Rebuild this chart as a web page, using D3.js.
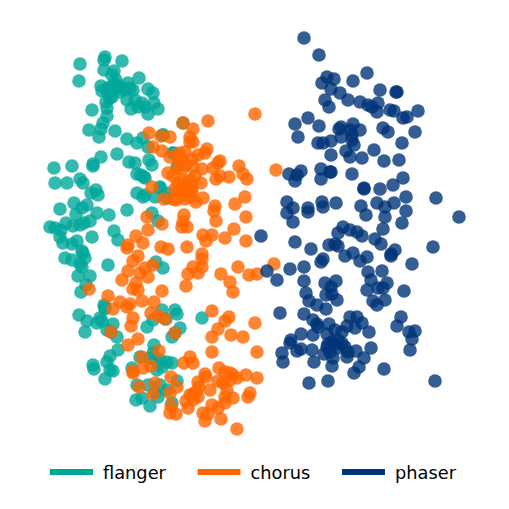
<!DOCTYPE html>
<html>
<head>
<meta charset="utf-8">
<script src="https://cdn.jsdelivr.net/npm/d3@7"></script>
<style>
  html, body { margin: 0; padding: 0; background: #fff; }
  text { font-family: "DejaVu Sans", sans-serif; }
</style>
</head>
<body>
<div id="chart"></div>
<script>
// embedding plot, no axes: values are in the units
let categories = ['flanger', 'chorus', 'phaser']
let colors = ['#00a89a', '#ff6600', '#003478']

let flanger = [
  [105,57],[104,60],[122,61],[80,64],[79,81],[104,70],[114,71],[112,75],[116,80],[118,85],
  [139,78],[128,83],[130,88],[123,88],[101,86],[102,91],[108,93],[112,97],[148,89],[153,93],
  [127,100],[135,100],[142,103],[154,103],[158,109],[148,114],[131,109],[138,107],[106,102],[107,108],
  [92,110],[107,116],[103,123],[101,129],[89,130],[99,137],[115,131],[127,139],[137,143],[143,138],
  [163,135],[183,123],[117,154],[101,157],[93,164],[93,166],[129,162],[135,163],[149,160],[152,165],
  [137,174],[144,177],[54,168],[72,166],[55,183],[67,183],[80,179],[83,183],[91,193],[96,190],
  [98,195],[137,193],[145,195],[155,197],[160,187],[173,153],[148,147],[163,135],[173,153],[177,167],
  [145,178],[141,175],[143,197],[160,188],[168,193],[167,198],
  [118,88],[112,88],[125,90],[110,98],[120,92],[133,90],[113,85],[145,107],[108,88],
  [60,209],[74,203],[87,205],[82,208],[76,214],[97,213],[109,215],[90,221],[127,210],[50,227],
  [55,228],[61,230],[66,223],[73,226],[80,225],[84,223],[60,237],[63,243],[72,244],[77,241],
  [92,237],[82,251],[83,253],[85,258],[65,258],[72,260],[80,264],[82,267],[78,276],[90,276],
  [86,285],[81,292],[108,265],[114,231],[118,240],[152,213],[158,221],[156,262],[163,268],[105,307],
  [79,315],[100,318],[175,310],[162,310],[177,314],[87,321],[85,332],[97,323],[102,321],[107,330],
  [113,324],[117,337],[104,305],[105,309],[118,350],[110,356],[107,362],[93,365],[94,369],[110,370],
  [113,371],[105,379],[154,345],[153,353],[140,357],[160,360],[167,362],[172,363],[132,368],[157,370],
  [137,385],[148,385],[160,385],[177,381],[136,400],[142,398],[150,406],[158,397],[167,390],[172,403],
  [153,320],[147,327],[166,319],[180,328],[172,337],[202,318],[111,332],[175,333],
  [155,360],[150,358],[162,367],[155,393]
]

let chorus = [
  [255,114],[208,121],[183,123],[193,129],[149,133],[161,136],[170,137],[190,137],[193,142],[190,142],
  [153,147],[162,151],[207,149],[205,153],[185,152],[179,153],[170,157],[198,155],[192,159],[182,160],
  [220,161],[218,163],[239,166],[276,170],[177,168],[182,169],[193,167],[202,169],[213,168],[168,173],
  [173,176],[183,180],[195,176],[243,174],[247,179],[229,177],[220,176],[216,179],[201,183],[185,183],
  [190,185],[175,189],[180,190],[187,190],[192,192],[152,187],[164,199],[173,199],[185,199],[196,202],
  [203,198],[191,197],[245,197],[235,204],[215,206],[214,211],[216,221],[246,217],[184,215],[183,222],
  [182,227],[187,227],[147,217],[162,224],[148,230],[234,229],[203,235],[212,235],[206,241],[225,238],
  [246,241],[187,247],[161,247],[168,249],[143,243],[136,236],[128,245],[127,248],
  [178,183],[185,187],[192,187],[183,192],[190,180],[183,195],[178,158],[186,165],[176,200],
  [202,254],[202,259],[202,267],[193,267],[198,273],[188,274],[186,286],[221,274],[238,267],[249,275],
  [257,274],[274,264],[230,282],[233,292],[212,311],[229,317],[225,321],[218,329],[255,323],[231,335],
  [243,337],[212,337],[162,291],[138,256],[133,261],[145,268],[153,265],[140,273],[148,277],[128,271],
  [122,280],[136,283],[133,289],[138,290],[89,289],[108,296],[120,302],[113,309],[127,307],[130,304],
  [142,301],[154,302],[151,313],[158,316],[165,319],[133,318],[131,326],[111,332],[175,333],[138,339],
  [128,345],[159,351],[142,357],[151,366],[143,368],[133,371],[133,373],[139,387],[155,383],[153,394],
  [171,377],[177,387],[170,393],[171,406],[170,413],[176,414],[257,352],[212,352],[190,357],[184,363],
  [193,363],[219,368],[205,374],[206,377],[198,382],[199,387],[210,390],[218,381],[223,383],[225,372],
  [230,373],[233,375],[237,378],[246,375],[257,378],[250,393],[248,397],[233,398],[225,397],[227,390],
  [225,403],[218,408],[212,405],[190,395],[198,397],[193,400],[186,401],[188,408],[203,413],[208,414],
  [205,421],[221,419],[237,429],[193,394],[196,392],[230,380]
]

let phaser = [
  [304,38],[319,55],[367,73],[353,81],[327,77],[334,79],[322,83],[331,89],[340,93],[348,100],
  [325,100],[329,107],[360,102],[380,90],[396,92],[397,92],[378,103],[368,105],[372,107],[377,112],
  [390,110],[394,111],[403,118],[407,117],[418,111],[308,118],[295,124],[319,126],[298,137],[341,127],
  [339,129],[353,124],[350,130],[360,130],[352,135],[341,137],[352,140],[383,128],[388,132],[415,132],
  [402,143],[318,143],[323,143],[331,141],[354,145],[374,150],[331,155],[346,151],[350,157],[362,158],
  [384,161],[399,160],[321,169],[330,172],[331,172],[301,171],[289,174],[297,175],[295,181],[321,179],
  [352,174],[403,178],[364,188],[364,189],[380,189],[393,185],[406,197],[436,198],
  [287,202],[293,208],[287,213],[293,222],[308,208],[308,212],[323,207],[322,202],[336,203],[361,206],
  [366,215],[377,203],[385,207],[385,217],[394,203],[406,211],[402,223],[383,229],[459,217],[261,236],
  [295,242],[311,249],[329,245],[335,244],[338,246],[338,233],[343,227],[350,230],[357,232],[362,236],
  [375,239],[381,244],[395,250],[391,254],[391,256],[345,256],[353,253],[360,261],[367,257],[323,259],
  [321,262],[433,247],[412,264],[267,271],[290,269],[304,267],[277,280],[304,281],[325,283],[336,281],
  [331,287],[332,294],[326,295],[337,300],[306,293],[309,301],[317,305],[326,309],[368,272],[382,271],
  [371,280],[387,283],[367,290],[378,288],[383,288],[404,291],[385,300],[373,301],[377,305],[280,313],
  [304,314],[401,317],[397,326],[409,332],[415,331],[412,339],[410,350],[313,320],[317,324],[318,327],
  [329,324],[335,330],[350,317],[357,317],[362,323],[347,326],[355,328],[369,332],[301,334],[291,340],
  [290,343],[297,351],[301,349],[313,335],[327,334],[342,332],[312,350],[328,344],[335,344],[342,343],
  [345,347],[327,347],[324,354],[333,358],[332,366],[347,357],[348,352],[356,351],[371,348],[364,358],
  [359,367],[354,373],[282,353],[283,362],[314,362],[384,369],[309,383],[328,381],[435,381],
  [332,342],[338,348],[330,352],[338,340]
]

let series = [flanger, chorus, phaser]

let width = 509
let height = 509

let svg = d3.select('#chart')
  .append('svg')
  .attr('width', width)
  .attr('height', height)
  .style('display', 'block')

let x = d3.scaleLinear().domain([0, 509]).range([0, width])
let y = d3.scaleLinear().domain([0, 509]).range([0, height])

let color = d3.scaleOrdinal().domain(categories).range(colors)

categories.forEach(function(name, i) {
  svg.append('g')
    .attr('class', name)
    .selectAll('circle')
    .data(series[i])
    .enter()
    .append('circle')
    .attr('cx', function(d) { return x(d[0]) })
    .attr('cy', function(d) { return y(d[1]) })
    .attr('r', 6.8)
    .attr('fill', color(name))
    .attr('fill-opacity', 0.8)
})

// legend
let legendX = [50, 197.5, 342]

let legend = svg.append('g')
  .attr('class', 'legend')
  .selectAll('g')
  .data(categories)
  .enter()
  .append('g')
  .attr('transform', function(d, i) { return 'translate(' + legendX[i] + ',472)' })

legend.append('line')
  .attr('x1', 0)
  .attr('x2', 43)
  .attr('stroke', function(d) { return color(d) })
  .attr('stroke-width', 6)

legend.append('text')
  .attr('x', 53)
  .attr('y', 6.5)
  .attr('font-size', 17.8)
  .attr('fill', '#000')
  .text(function(d) { return d })
</script>
</body>
</html>
